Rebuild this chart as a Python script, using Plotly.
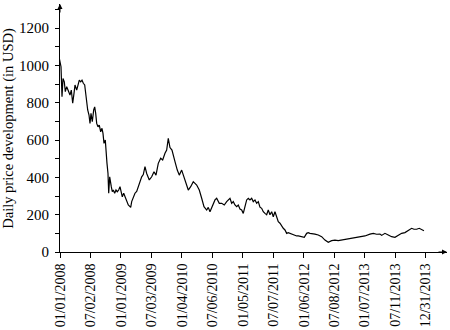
import plotly.graph_objects as go

# x position in trading-day index (126 days per tick interval), price in USD
days_px = [59.3,61,62,63,64.3,65.3,66.7,68.3,70,71.3,72.7,74,75,76.7,78,79.3,80.7,82,83.3,84.7,85.3,86.3,87.7,89,90,91,92.3,93.7,94.7,95.7,96.7,98,99.3,100.7,102,103,104,105.3,106,107,108,108.7,109.7,110.3,
           111.3,112.3,113.3,114.7,116,117.3,118.7,120,121.3,122.3,123.7,125,126.7,128.3,130,130.7,131.7,133.3,135,136.7,138.3,140,141.7,143.3,145,146.7,148.3,149.3,151.7,154,156,158.3,160.7,162.7,165,166.7,168.3,170,172,172.7,175,
           177.3,179.3,181.7,184,186.7,188.3,190.7,193.3,196.7,199.3,201.7,204,206.7,208.3,210,212.7,215,216.7,219.3,221.7,224.3,226.7,229.3,
           230,231.7,233.3,235,236.7,238.3,240,241.7,243.3,245,246.7,248.3,250,251.7,253.3,255,256.7,258.3,260,261.7,263.3,265,266.7,268.3,270,271.7,273.3,275,276.7,278.3,280,281.7,283.3,285,286.7,288.3,290,291.7,293.3,295,296.7,298.3,301.7,304.3,306.7,308.3,310,311.7,315,318.3,321.7,325,328.3,331.7,335,338.3,341.7,345,348.3,351.7,355,358.3,361.7,365,370,373.3,376.7,380,381.7,385,388.3,391.7,395,398.3,401.7,405,408.3,411.7,414,416.7,419.3,421.7,424]
prices = [1038,993,832,930,912,859,886,868,841,868,797,850,895,868,904,921,912,921,904,895,868,805,761,734,689,743,698,761,778,743,689,671,680,644,663,636,582,600,529,475,421,315,403,368,
          350,323,332,315,332,323,332,350,323,296,315,296,279,252,243,239,270,290,315,325,350,365,403,415,457,421,395,386,403,430,412,475,502,493,529,546,609,560,546,529,484,
          439,412,439,403,368,332,350,377,359,332,288,243,225,239,216,252,279,288,261,261,252,270,288,
          288,261,270,252,243,252,230,225,207,243,279,288,279,288,270,279,261,270,240,234,216,207,200,225,200,216,189,216,180,162,154,136,127,118,100,104,100,100,96,91,86,86,82,79,100,104,100,100,96,91,82,64,52,61,64,61,64,68,70,73,77,77,82,86,96,100,95,96,89,100,91,82,79,91,100,104,114,127,122,122,127,118,114]

days = [(p - 60) * 126 / 30.5 for p in days_px]

tick_days = [0, 126, 252, 378, 504, 630, 756, 882, 1008, 1134, 1260, 1386, 1512]
tick_labels = ["01/01/2008", "07/02/2008", "01/01/2009", "07/03/2009", "01/04/2010",
               "07/06/2010", "01/05/2011", "07/07/2011", "01/06/2012", "07/08/2012",
               "01/07/2013", "07/11/2013", "12/31/2013"]
y_ticks = [0, 200, 400, 600, 800, 1000, 1200]

FONT = "Liberation Serif"

fig = go.Figure()
fig.add_trace(go.Scatter(x=days, y=prices, mode="lines",
                         line=dict(color="black", width=1.2), showlegend=False))

fig.update_layout(
    width=450, height=330,
    margin=dict(l=60, r=3, t=4, b=78),
    plot_bgcolor="white", paper_bgcolor="white",
    font=dict(family=FONT, size=14, color="black"),
    xaxis=dict(range=[0, 1599], tickmode="array", tickvals=tick_days, ticktext=tick_labels,
               tickangle=-90, ticks="outside", ticklen=5, tickwidth=1, tickcolor="black",
               ticklabelstandoff=0, automargin=False,
               showline=True, linecolor="black", linewidth=1, showgrid=False, zeroline=False,
               tickfont=dict(family=FONT, size=14)),
    yaxis=dict(range=[0, 1329], tickmode="array", tickvals=y_ticks,
               ticks="outside", ticklen=4, tickwidth=1, tickcolor="black",
               ticklabelstandoff=3, automargin=False,
               minor=dict(dtick=100, tick0=0, ticks="outside", ticklen=4, tickcolor="black"),
               showline=True, linecolor="black", linewidth=1, showgrid=False, zeroline=False,
               tickfont=dict(family=FONT, size=15)),
    annotations=[
        dict(x=1, y=0, xref="paper", yref="paper", ax=-10, ay=0, text="", showarrow=True,
             arrowhead=2, arrowsize=1, arrowwidth=1, arrowcolor="black"),
        dict(x=0, y=1, xref="paper", yref="paper", ax=0, ay=10, text="", showarrow=True,
             arrowhead=2, arrowsize=1, arrowwidth=1, arrowcolor="black"),
        dict(x=-0.135, y=0.5, xref="paper", yref="paper", text="Daily price development (in USD)",
             textangle=-90, showarrow=False, xanchor="center", yanchor="middle",
             font=dict(family=FONT, size=14.5)),
    ],
)

fig.write_html("out.html", config={"displayModeBar": False},
               post_script="document.body.style.margin='0';")
